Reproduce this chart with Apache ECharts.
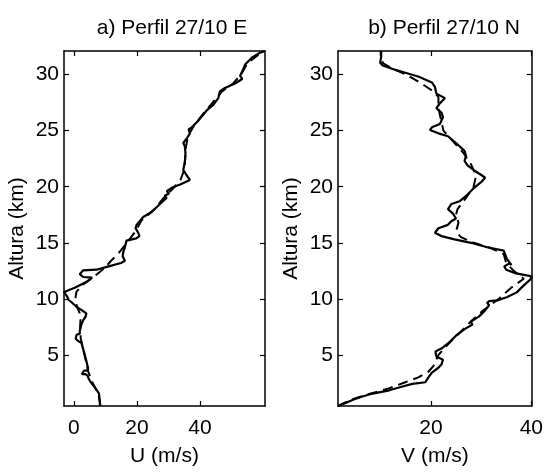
<!DOCTYPE html>
<html>
<head>
<meta charset="utf-8">
<script src="https://cdn.jsdelivr.net/npm/echarts@6/dist/echarts.min.js"></script>
<style>html,body{margin:0;padding:0;background:#fff}#c{width:546px;height:472px}</style>
</head>
<body>
<div id="c"></div>
<script>
// Panel titles and axis names
const titles = ['a) Perfil 27/10 E', 'b) Perfil 27/10 N'];
const xNames = ['U (m/s)', 'V (m/s)'];
const yName = 'Altura (km)';
// tick labels
const uTicks = [0, 20, 40];
const vTicks = [20, 40];
const altTicks = [5, 10, 15, 20, 25, 30];
// axis ranges
const uRange = [-3.1, 60.6];
const vRange = [1.5, 40.1];
const altRange = [0.45, 32.1];

// a) U component – measured profile (solid)
const uObsAlt = [0.45,1.0,1.56,1.9,2.1,2.5,2.7,2.95,3.15,3.3,3.3,3.45,3.6,3.6,3.86,4.43,5.0,5.7,6.1,6.2,6.45,6.8,6.9,7.15,7.7,8.1,8.4,8.7,9.0,9.3,9.7,9.9,10.15,10.4,10.6,10.8,11.0,11.3,11.6,11.9,11.95,12.2,12.55,12.6,12.9,13.2,13.4,13.8,14.2,14.6,15.2,15.4,15.6,15.9,16.3,16.6,17.3,17.75,18.46,19.0,19.2,19.4,19.6,19.9,20.2,20.6,21.0,21.5,22.2,23.0,23.6,23.9,24.3,24.76,25.1,25.3,25.9,26.8,27.3,27.9,28.5,28.8,29.2,29.6,29.9,30.4,30.9,31.5,31.95,32.1];
const uObs    = [8.3,8.2,8.0,7.2,6.7,5.6,5.1,4.6,4.4,3.6,2.6,2.4,3.2,4.5,4.5,4.0,3.5,2.8,2.4,1.6,0.6,0.9,1.9,1.9,2.4,3.0,3.7,4.0,2.5,0.85,-0.7,-1.6,-2.0,-2.6,-3.1,-1.5,0.3,2.5,4.5,5.8,3.0,1.9,3.0,7.2,11.0,15.0,16.2,15.5,15.7,16.2,16.7,19.8,20.8,20.4,19.6,19.9,22.0,24.7,27.3,29.4,28.8,30.2,29.5,31.0,33.7,36.8,35.8,34.7,35.2,35.4,35.2,34.7,35.8,36.8,36.4,37.4,39.5,42.1,44.2,45.8,46.3,47.9,51.1,53.4,52.7,53.6,54.3,56.4,59.0,60.6];
// a) U component – smoothed profile (dashed)
const uFitAlt = [0.45,1.5,2.5,3.5,4.5,5.5,6.5,7.5,8.5,9.3,10.0,10.6,11.2,12.0,12.8,13.4,14.0,15.0,16.0,17.0,18.0,19.0,20.0,20.6,21.5,22.5,23.5,24.5,25.5,26.5,27.5,28.5,29.2,30.0,31.0,32.1];
const uFit    = [8.5,7.8,6.0,4.6,3.8,3.0,2.2,2.0,2.2,1.0,0.5,0.8,2.5,6.5,10.0,11.8,14.0,16.8,19.5,21.5,25.5,28.5,32.0,33.8,35.0,35.3,35.5,36.2,38.2,41.0,44.0,47.0,50.5,53.0,55.0,60.0];

// b) V component – measured profile (solid)
const vObsAlt = [0.45,1.0,1.28,1.56,1.85,2.14,2.42,2.57,3.0,3.43,3.86,4.14,4.57,4.86,5.3,5.57,6.15,6.72,7.3,7.72,7.95,8.15,8.44,8.87,9.44,9.65,9.8,9.87,10.15,10.58,11.16,11.73,12.0,12.3,12.6,12.9,13.2,13.0,13.6,14.3,14.6,15.0,15.3,15.6,15.9,16.3,16.6,16.9,17.17,17.6,18.0,18.46,18.7,19.3,19.9,20.4,20.8,21.0,21.45,21.9,22.3,22.76,23.2,23.9,24.5,24.76,25.05,25.3,25.6,26.2,26.6,27.0,27.45,27.9,28.3,28.9,29.3,29.8,30.2,30.5,30.8,31.06,31.6,32.1];
const vObs    = [1.6,4.5,6.2,8.4,11.7,14.0,16.3,18.9,19.5,20.2,21.5,22.1,22.4,21.1,20.9,22.1,23.7,25.0,26.7,28.3,27.9,28.6,29.6,30.6,31.6,31.2,31.6,33.2,35.1,37.1,38.4,39.8,40.1,36.7,35.0,34.6,35.8,36.0,35.1,34.5,31.2,28.0,24.7,22.1,20.8,21.5,23.4,24.0,25.0,24.4,23.4,24.1,25.7,27.3,28.6,30.0,30.8,30.2,28.6,27.3,26.7,27.0,26.7,25.0,23.4,21.5,19.8,20.2,21.8,22.4,22.1,21.1,21.8,22.8,21.1,20.8,20.2,17.6,14.6,12.4,10.4,9.9,10.1,10.1];
// b) V component – smoothed profile (dashed)
const vFitAlt = [0.45,1.0,1.5,2.0,2.5,3.0,3.5,4.0,5.0,6.0,7.0,8.0,9.0,10.0,11.0,11.8,12.5,13.2,14.0,14.6,15.0,15.5,16.0,16.8,17.5,18.0,19.0,20.0,21.0,22.0,23.0,24.0,25.0,26.0,27.0,28.0,28.5,29.0,29.5,30.0,30.5,31.0,31.5,32.1];
const vFit    = [1.5,4.0,7.5,11.5,14.5,17.5,19.5,20.5,21.5,23.5,25.8,28.0,30.5,33.5,36.0,38.5,36.5,35.0,34.5,31.5,28.5,26.0,25.0,25.5,25.0,25.3,27.0,28.5,29.0,28.0,26.5,24.5,22.5,22.0,21.5,21.5,20.5,18.8,17.0,15.0,12.5,10.5,10.0,10.0];

const zip = (xs, ys) => xs.map((x, i) => [x, ys[i]]);
const FONT = 'Liberation Sans';
const FS = 21;
const black = '#000';

const grids = [
  { left: 64, top: 51, width: 201, height: 368 },
  { left: 338, top: 51, width: 197, height: 368 }
];

function xAxes(gi, range, ticks, name) {
  const common = {
    type: 'value', gridIndex: gi, min: range[0], max: range[1],
    splitLine: { show: false },
    axisLine: { show: true, onZero: false, lineStyle: { color: black, width: 1.5 } },
    axisTick: { show: true, inside: true, length: 5, customValues: ticks, lineStyle: { color: black, width: 1.2 } }
  };
  return [
    Object.assign({}, common, {
      position: 'bottom',
      name: name, nameLocation: 'middle', nameGap: 40,
      nameTextStyle: { fontFamily: FONT, fontSize: FS, color: black },
      axisLabel: { customValues: ticks, fontFamily: FONT, fontSize: FS, color: black, margin: 12 }
    }),
    Object.assign({}, common, { position: 'top', axisLabel: { show: false } })
  ];
}
function yAxes(gi) {
  const common = {
    type: 'value', gridIndex: gi, min: altRange[0], max: altRange[1],
    splitLine: { show: false },
    axisLine: { show: true, onZero: false, lineStyle: { color: black, width: 1.5 } },
    axisTick: { show: true, inside: true, length: 5, customValues: altTicks, lineStyle: { color: black, width: 1.2 } }
  };
  return [
    Object.assign({}, common, {
      position: 'left',
      name: yName, nameLocation: 'middle', nameGap: 36,
      nameTextStyle: { fontFamily: FONT, fontSize: FS, color: black },
      axisLabel: { customValues: altTicks, fontFamily: FONT, fontSize: FS, color: black, margin: 5 }
    }),
    Object.assign({}, common, { position: 'right', axisLabel: { show: false } })
  ];
}

const solid = { color: black, width: 2.2, type: 'solid' };
const dashed = { color: black, width: 2, type: [10, 6] };
function line(name, xi, yi, data, style) {
  return { name: name, type: 'line', xAxisIndex: xi, yAxisIndex: yi, data: data,
    showSymbol: false, symbol: 'none', smooth: false, lineStyle: style, z: style.type === 'solid' ? 3 : 2 };
}

const chart = echarts.init(document.getElementById('c'), null, { renderer: 'canvas' });
chart.setOption({
  animation: false,
  backgroundColor: '#fff',
  title: [
    { text: titles[0], left: 167, top: 13, textAlign: 'center', textStyle: { fontFamily: FONT, fontSize: FS, fontWeight: 'normal', color: black } },
    { text: titles[1], left: 439, top: 13, textAlign: 'center', textStyle: { fontFamily: FONT, fontSize: FS, fontWeight: 'normal', color: black } }
  ],
  grid: grids,
  xAxis: [].concat(xAxes(0, uRange, uTicks, xNames[0]), xAxes(1, vRange, vTicks, xNames[1])),
  yAxis: [].concat(yAxes(0), yAxes(1)),
  series: [
    line('U medido', 0, 0, zip(uObs, uObsAlt), solid),
    line('U suavizado', 0, 0, zip(uFit, uFitAlt), dashed),
    line('V medido', 2, 2, zip(vObs, vObsAlt), solid),
    line('V suavizado', 2, 2, zip(vFit, vFitAlt), dashed)
  ]
});
</script>
</body>
</html>
